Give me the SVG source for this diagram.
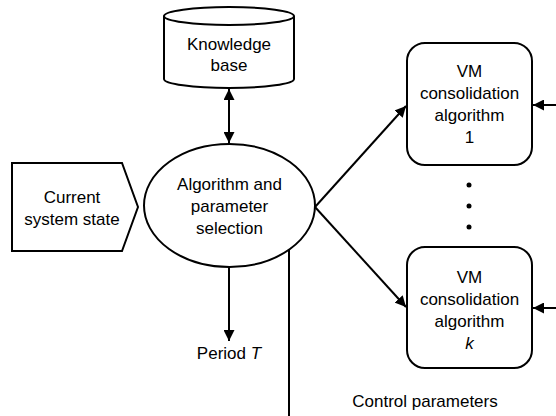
<svg xmlns="http://www.w3.org/2000/svg" width="556" height="416" viewBox="0 0 556 416">
<defs>
<marker id="ah" viewBox="0 0 10 10" refX="10" refY="5" markerWidth="5.5" markerHeight="5.5" orient="auto-start-reverse" markerUnits="strokeWidth">
<path d="M0,0 L10,5 L0,10 z" fill="#000"/>
</marker>
<style>
.s{fill:#fff;stroke:#000;stroke-width:2}
.t{font-family:"Liberation Sans",Arial,sans-serif;font-size:17px;fill:#000;text-anchor:middle}
.c{fill:none;stroke:#000;stroke-width:2}
.a{marker-end:url(#ah)}
.b{marker-start:url(#ah);marker-end:url(#ah)}
</style>
</defs>
<rect width="556" height="416" fill="#fff"/>
<g id="kb">
<path class="s" d="M164,16 A65,9 0 0 1 294,16 L294,79 A65,9 0 0 1 164,79 Z"/>
<path class="c" d="M164,16 A65,9 0 0 0 294,16"/>
<text class="t" x="229" y="50">Knowledge</text>
<text class="t" x="229" y="71">base</text>
</g>
<g id="state">
<polygon class="s" points="12,163 122,163 138,207 122,251 12,251"/>
<text class="t" x="72" y="203">Current</text>
<text class="t" x="72" y="225">system state</text>
</g>
<g id="sel">
<ellipse class="s" cx="229.5" cy="205.5" rx="85.5" ry="61.5"/>
<text class="t" x="229.5" y="190">Algorithm and</text>
<text class="t" x="229.5" y="212">parameter</text>
<text class="t" x="229.5" y="234">selection</text>
</g>
<g id="vm1">
<rect class="s" x="407" y="43" width="125" height="122" rx="18"/>
<text class="t" x="469.5" y="77">VM</text>
<text class="t" x="469.5" y="99">consolidation</text>
<text class="t" x="469.5" y="121">algorithm</text>
<text class="t" x="469.5" y="143">1</text>
</g>
<g id="dots">
<circle cx="469" cy="185" r="2.5" fill="#000"/>
<circle cx="469" cy="206" r="2.5" fill="#000"/>
<circle cx="469" cy="227" r="2.5" fill="#000"/>
</g>
<g id="vmk">
<rect class="s" x="407" y="247" width="125" height="121" rx="18"/>
<text class="t" x="469.5" y="283">VM</text>
<text class="t" x="469.5" y="305">consolidation</text>
<text class="t" x="469.5" y="327">algorithm</text>
<text class="t" x="469.5" y="349" font-style="italic">k</text>
</g>
<g id="labels">
<text class="t" x="229" y="359">Period <tspan font-style="italic">T</tspan></text>
<text class="t" x="425" y="407">Control parameters</text>
</g>
<g id="connectors">
<line class="c b" x1="229" y1="89" x2="229" y2="143"/>
<line class="c a" x1="315" y1="207" x2="406" y2="106"/>
<line class="c a" x1="315" y1="207" x2="406" y2="307"/>
<line class="c a" x1="229" y1="267" x2="229" y2="341"/>
<line class="c" x1="289" y1="250" x2="289" y2="416"/>
<line class="c a" x1="556" y1="105" x2="533" y2="105"/>
<line class="c a" x1="556" y1="308" x2="533" y2="308"/>
</g>
</svg>
